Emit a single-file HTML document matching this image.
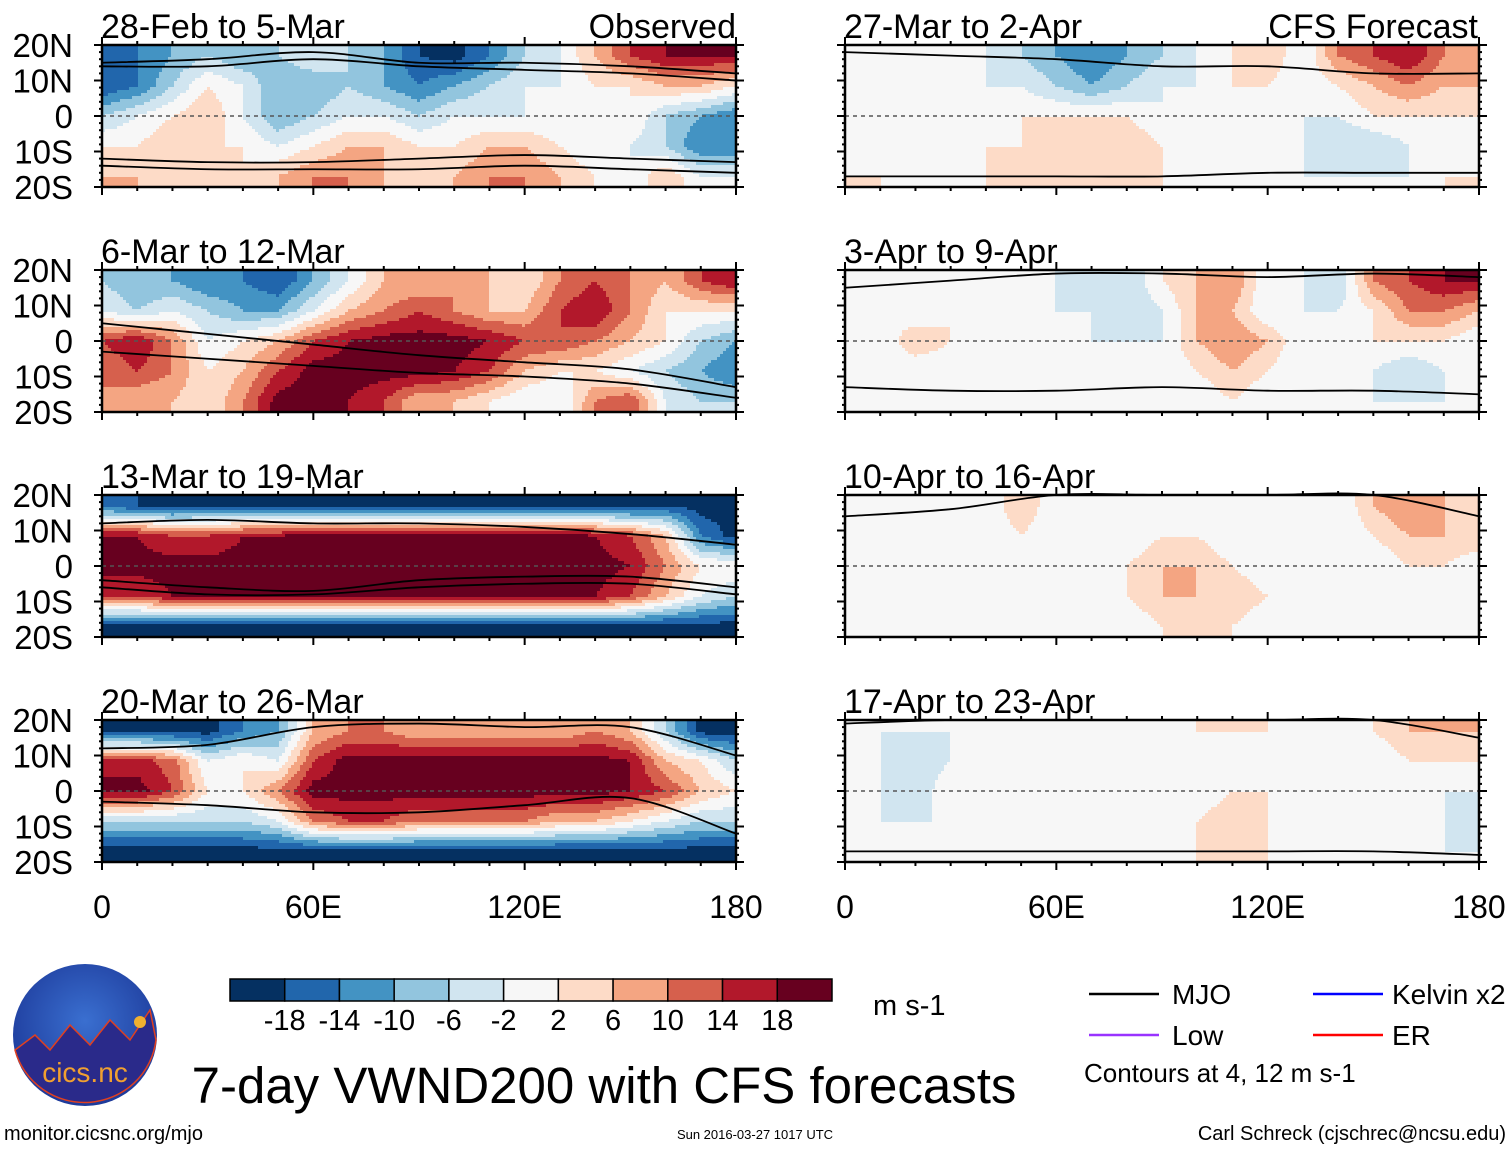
<!DOCTYPE html>
<html><head><meta charset="utf-8">
<style>
body{margin:0;background:#fff;}
svg{display:block;font-family:"Liberation Sans",sans-serif;}
</style></head>
<body>
<svg id="chart" width="1510" height="1149" viewBox="0 0 1510 1149" xmlns="http://www.w3.org/2000/svg">
<defs>
<radialGradient id="logoGrad" cx="50%" cy="40%" r="60%">
<stop offset="0" stop-color="#3a6fd0"/><stop offset="1" stop-color="#1d3a9a"/>
</radialGradient>
</defs>
<g id="panels"></g>
<g id="legendArea"></g>
</svg>
<script>
// ---- data: lon points 0..180 every 10, lat rows 20N,10N,0,10S,20S ----
const lonPoints = [0,10,20,30,40,50,60,70,80,90,100,110,120,130,140,150,160,170,180];
const latPoints = [20,10,0,-10,-20];
const levelBounds = [-18,-14,-10,-6,-2,2,6,10,14,18];
const levelColors = ["#053061","#2166ac","#4393c3","#92c5de","#d1e5f0","#f7f7f7","#fddbc7","#f4a582","#d6604d","#b2182b","#67001f"];
const colorbarLabels = ["-18","-14","-10","-6","-2","2","6","10","14","18"];
const panelTitles = ["28-Feb to 5-Mar","6-Mar to 12-Mar","13-Mar to 19-Mar","20-Mar to 26-Mar","27-Mar to 2-Apr","3-Apr to 9-Apr","10-Apr to 16-Apr","17-Apr to 23-Apr"];
const xTickLabels = ["0","60E","120E","180"];
const yTickLabels = ["20N","10N","0","10S","20S"];

const obs1 = [
[-18,-14,-10,-6,-10,-6,-2,-6,-10,-18,-20,-14,-6,-2,6,14,18,18,18],
[-18,-14,-6,2,-2,-10,-10,-6,-10,-14,-10,-6,-2,-2,2,2,6,6,2],
[-6,-2,2,6,-2,-10,-6,-2,-2,-6,-2,-2,-2,-2,-2,2,-6,-10,-14],
[2,2,6,2,2,-2,2,6,6,2,2,6,6,2,-2,-2,-6,-14,-14],
[6,6,2,6,2,6,10,10,6,2,6,10,10,6,2,-2,6,-2,-2]];
const obs2 = [
[-6,-10,-10,-14,-14,-18,-10,-2,6,6,10,6,2,10,14,10,6,14,18],
[-2,-6,-2,-6,-10,-10,-2,6,10,14,10,6,6,14,18,10,2,2,2],
[14,18,10,-2,2,6,14,18,20,20,20,18,14,14,10,6,2,-6,-10],
[10,14,10,2,6,14,20,20,20,20,18,14,6,2,2,-2,-6,-10,-14],
[10,6,6,2,10,20,20,18,14,6,6,2,-2,-2,10,14,-2,-6,-6]];
const obs3 = [
[-16,-18,-20,-18,-20,-20,-20,-18,-20,-20,-20,-20,-20,-20,-20,-20,-18,-20,-20],
[18,18,14,14,18,18,20,20,20,20,20,20,20,20,18,14,6,-14,-20],
[20,20,20,20,20,20,20,20,20,20,20,20,20,20,20,18,10,2,2],
[14,14,18,20,20,20,20,20,20,20,20,20,20,20,18,14,6,-2,-6],
[-20,-20,-20,-20,-20,-20,-20,-20,-20,-20,-20,-20,-20,-20,-20,-20,-20,-20,-20]];
const obs4 = [
[-20,-20,-20,-20,-14,-10,6,10,10,6,6,6,6,6,10,6,-6,-20,-20],
[16,16,12,-2,2,-2,14,20,20,20,20,20,20,20,20,18,6,2,-6],
[20,20,14,2,2,10,20,20,20,20,20,20,20,20,20,18,14,6,2],
[-6,-6,-6,-6,-6,-2,10,14,14,10,10,10,10,6,6,2,-2,-6,-6],
[-20,-20,-20,-20,-20,-20,-20,-20,-20,-20,-20,-20,-20,-20,-20,-20,-20,-20,-20]];
const fc1 = [
[-2,-2,-2,2,-2,-6,-10,-14,-10,-6,-2,2,6,-2,10,14,18,10,6],
[-2,-2,2,-2,-2,-2,-6,-10,-6,-2,-2,2,2,-2,2,6,10,6,6],
[-2,-2,-2,-2,-2,2,2,2,2,-2,-2,-2,-2,-2,-2,2,2,2,2],
[2,-2,-2,-2,2,2,2,2,6,2,-2,-2,-2,-2,-6,-6,-2,-2,-2],
[2,2,-2,-2,2,2,6,2,2,2,-2,-2,-2,-2,-2,-2,-2,2,2]];
const fc2 = [
[2,-2,-2,-2,-2,-2,-2,-6,-6,2,6,10,-2,-2,-6,10,14,18,18],
[2,2,-2,2,-2,-2,-2,-2,-6,-2,6,6,-2,-2,-2,2,10,10,6],
[-2,-2,6,2,-2,-2,-2,-2,-2,-2,6,10,6,-2,-2,2,2,2,-2],
[-2,-2,-2,-2,-2,-2,-2,-2,-2,-2,2,6,2,-2,-2,-2,-6,-2,-2],
[-2,-2,2,-2,-2,-2,-2,-2,-2,-2,-2,2,-2,-2,-2,-2,-2,-2,-2]];
const fc3 = [
[2,-2,-2,-2,-2,6,-2,-2,-2,-2,-2,-2,-2,-2,-2,6,10,6,2],
[-2,-2,-2,-2,-2,2,-2,-2,-2,2,2,-2,-2,-2,-2,2,6,6,6],
[-2,-2,-2,-2,-2,-2,-2,-2,2,6,6,2,-2,-2,-2,-2,2,2,-2],
[-2,-2,-2,-2,-2,-2,-2,-2,2,6,6,6,2,-2,-2,-2,-2,-2,-2],
[-2,-2,-2,-2,-2,-2,-2,-2,-2,2,6,2,-2,-2,-2,-2,-2,-2,-2]];
const fc4 = [
[2,-2,-2,-2,-2,-2,-2,-2,-2,-2,2,2,2,-2,-2,2,6,6,6],
[-2,-2,-6,-2,-2,-2,-2,-2,-2,-2,-2,-2,-2,-2,-2,-2,2,2,2],
[-2,-2,-6,2,-2,-2,-2,-2,-2,-2,-2,2,2,-2,-2,-2,-2,-2,-2],
[-2,-2,-2,-2,-2,-2,-2,-2,-2,-2,2,6,2,-2,-2,-2,-2,-2,-6],
[-2,-2,-2,-2,-2,-2,-2,-2,-2,-2,2,6,2,-2,-2,-2,-2,-2,-2]];
const panelFields = [obs1,obs2,obs3,obs4,fc1,fc2,fc3,fc4];

// MJO contour latitudes at lon 0,30,...,180
const mjoLons = [0,30,60,90,120,150,180];
const mjoLines = [
 [[15,16,18,15,15,14,12],[14,14,16,14,13,12,10],[-12,-13,-13,-12,-11,-12,-13],[-14,-15,-15,-15,-14,-15,-16]],
 [[5,2,-1,-4,-6,-8,-13],[-3,-5,-7,-9,-10,-12,-16]],
 [[12,13,12,12,11,9,6],[-6,-8,-8,-6,-5,-5,-8],[-4,-6,-7,-4,-3,-3,-6]],
 [[12,13,18,19,18,18,10],[-3,-4,-6,-6,-4,-2,-12]],
 [[18,17,16,14,14,12,12],[-17,-17,-17,-17,-16,-16,-16]],
 [[15,17,19,19,18,19,18],[-13,-14,-14,-13,-14,-14,-15]],
 [[14,16,20,20,20,20,14]],
 [[19,20,20,20,20,20,15],[-17,-17,-17,-17,-17,-17,-18]]
];

const NS = "http://www.w3.org/2000/svg";
const panelW = 634, panelH = 142;
const leftX = [102,845], topY = [45,270,495,720];
function mk(tag, attrs, parent){const e=document.createElementNS(NS,tag);for(const k in attrs)e.setAttribute(k,attrs[k]);if(parent)parent.appendChild(e);return e;}
function xScale(x0, lon){return x0 + lon/180*panelW;}
function yScale(y0, lat){return y0 + (20-lat)/40*panelH;}
function colorFor(v){let i=0;while(i<levelBounds.length && v>=levelBounds[i])i++;return levelColors[i];}
function sample(field, lon, lat){
  const fi=Math.max(0,Math.min(18,lon/10));
  let fj=(17-lat)/8.5; fj=Math.max(0,Math.min(4,fj));
  const i0=Math.min(Math.floor(fi),17), j0=Math.min(Math.floor(fj),3);
  const tx=fi-i0, ty=fj-j0;
  const a=field[j0][i0], b=field[j0][i0+1], c=field[j0+1][i0], d=field[j0+1][i0+1];
  return (a*(1-tx)+b*tx)*(1-ty)+(c*(1-tx)+d*tx)*ty;
}
const root=document.getElementById('panels');
for(let p=0;p<8;p++){
  const col=p<4?0:1, row=p%4;
  const x0=leftX[col], y0=topY[row];
  const g=mk('g',{},root);
  
  
  const field=panelFields[p];
  const step=3;
  const heat=mk('g',{},g);
  
  
  function flush(x1,x2,py,c){
    const r=mk('rect',{x:x0+x1,y:y0+py,width:x2-x1+0.5,height:Math.min(step,panelH-py)+0.5,fill:c},heat);
    
    
  }
  for(let py=0;py<panelH;py+=step){
    const lat=20-(Math.min(py+step/2,panelH))/panelH*40;
    let runStart=0, runColor=null;
    for(let px=0;px<panelW;px+=step){
      const lon=(px+step/2)/panelW*180;
      const c=colorFor(sample(field,lon,lat));
      if(c!==runColor){
        if(runColor!==null) flush(runStart,px,py,runColor);
        runStart=px; runColor=c;
      }
    }
    flush(runStart,panelW,py,runColor);
  }
  const eq=mk('line',{x1:x0,x2:x0+panelW,y1:yScale(y0,0),y2:yScale(y0,0),stroke:'#555','stroke-width':1.5,'stroke-dasharray':'4,4'},g);
  
  
  mjoLines[p].forEach(line=>{
    const pts=line.map((lat,i)=>[xScale(x0,mjoLons[i]),yScale(y0,lat)]);
    let d='M'+pts[0][0]+','+pts[0][1];
    for(let i=0;i<pts.length-1;i++){
      const p0=pts[Math.max(i-1,0)],p1=pts[i],p2=pts[i+1],p3=pts[Math.min(i+2,pts.length-1)];
      d+=' C'+(p1[0]+(p2[0]-p0[0])/6)+','+(p1[1]+(p2[1]-p0[1])/6)+' '+(p2[0]-(p3[0]-p1[0])/6)+','+(p2[1]-(p3[1]-p1[1])/6)+' '+p2[0]+','+p2[1];
    }
    const path=mk('path',{d:d,fill:'none',stroke:'#000','stroke-width':1.8},g);
    
    
  });
  const fr=mk('rect',{x:x0,y:y0,width:panelW,height:panelH,fill:'none',stroke:'#000','stroke-width':2.5},g);
  
  
  for(let lon=0;lon<=180;lon+=10){
    const x=xScale(x0,lon), major=lon%60===0, L=major?8:4;
    mk('line',{x1:x,x2:x,y1:y0-L,y2:y0,stroke:'#000','stroke-width':2},g);
    mk('line',{x1:x,x2:x,y1:y0+panelH,y2:y0+panelH+L,stroke:'#000','stroke-width':2},g);
  }
  for(let lat=-20;lat<=20;lat+=2){
    const y=yScale(y0,lat), major=lat%10===0, L=major?8:3;
    mk('line',{x1:x0-L,x2:x0,y1:y,y2:y,stroke:'#000','stroke-width':2},g);
    mk('line',{x1:x0+panelW,x2:x0+panelW+L,y1:y,y2:y,stroke:'#000','stroke-width':2},g);
  }
  const t=mk('text',{x:x0-1,y:y0-7,'font-size':34,fill:'#000'},g);
  t.textContent=panelTitles[p];
  
  
  if(col===0){
    yTickLabels.forEach((lab,i)=>{
      const yt=mk('text',{x:73,y:yScale(y0,latPoints[i])+12,'font-size':33,'text-anchor':'end'},g);
      yt.textContent=lab;
      
      
    });
  }
  if(row===3){
    xTickLabels.forEach((lab,i)=>{
      const xt=mk('text',{x:xScale(x0,i*60),y:918,'font-size':32,'text-anchor':'middle'},g);
      xt.textContent=lab;
      
      
    });
  }
}
[["Observed",736],["CFS Forecast",1478]].forEach(([s,x])=>{
  const h=mk('text',{x:x,y:38,'font-size':34,'text-anchor':'end'},root);
  h.textContent=s;
  
  
});
const lg=document.getElementById('legendArea');
const cbX=230, cbW=602/11;
levelColors.forEach((c,i)=>{
  const r=mk('rect',{x:cbX+i*cbW,y:979,width:cbW,height:22,fill:c,stroke:'#000','stroke-width':1.5},lg);
  
  
});
colorbarLabels.forEach((s,i)=>{
  const t=mk('text',{x:cbX+(i+1)*cbW,y:1030,'font-size':29,'text-anchor':'middle'},lg);
  t.textContent=s;
  
  
});
function txt(s,x,y,size,anchor,name,fill){const t=mk('text',{x:x,y:y,'font-size':size,'text-anchor':anchor||'start',fill:fill||'#000'},lg);t.textContent=s;return t;}
txt('m s-1',873,1015,29,'start','colorbar-units');
[["MJO","#000",1089,1172,994],["Low","#9933ff",1089,1172,1035],["Kelvin x2","#0000ff",1313,1392,994],["ER","#ff0000",1313,1392,1035]].forEach(([s,c,lx,tx,y])=>{
  const l=mk('line',{x1:lx,x2:lx+70,y1:y,y2:y,stroke:c,'stroke-width':2.5},lg);
  
  
  txt(s,tx,y+10,28,'start','legend-entry');
});
txt('Contours at 4, 12 m s-1',1084,1082,26,'start','contour-note');
txt('7-day VWND200 with CFS forecasts',604,1103,51,'middle','main-title');
txt('monitor.cicsnc.org/mjo',4,1140,20,'start','source-url');
txt('Sun 2016-03-27 1017 UTC',755,1139,13,'middle','timestamp');
txt('Carl Schreck (cjschrec@ncsu.edu)',1506,1140,20,'end','author');
const logo=mk('g',{},lg);


mk('ellipse',{cx:85,cy:1035,rx:72,ry:71,fill:'url(#logoGrad)'},logo);
mk('path',{d:'M15,1050 L35,1035 L50,1050 L70,1025 L90,1045 L110,1020 L130,1040 L150,1010 L156,1040 A72,71 0 0 1 15,1050 Z',fill:'#2a2a8a',stroke:'#e04020','stroke-width':1.5},logo);
mk('circle',{cx:140,cy:1022,r:6,fill:'#f0b030'},logo);
const lt=mk('text',{x:85,y:1082,'font-size':28,'text-anchor':'middle',fill:'#f0a030'},logo);
lt.textContent='cics.nc';
</script>
</body></html>
